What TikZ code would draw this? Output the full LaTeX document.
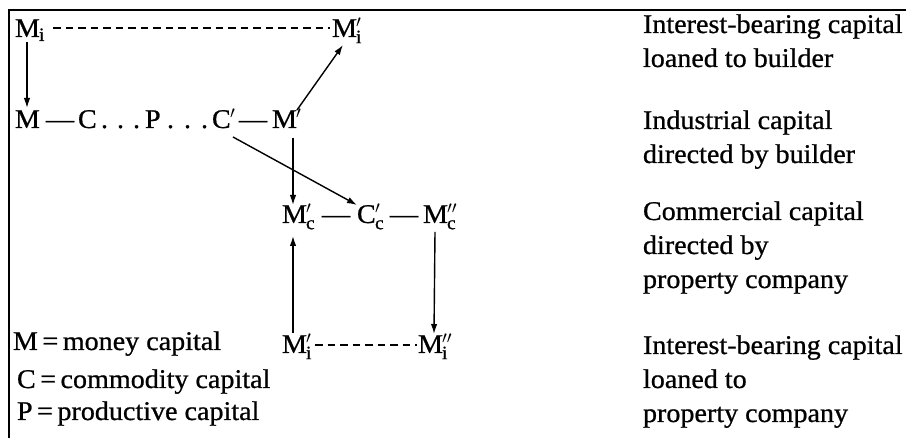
\documentclass[tikz,border=0pt]{standalone}
\usepackage{fontspec}
\setmainfont{Liberation Serif}[FakeStretch=1.04,FakeBold=0.8]
\usetikzlibrary{arrows.meta,calc}
\begin{document}
\begin{tikzpicture}[x=1pt,y=1pt,
  every node/.style={inner sep=0pt,outer sep=0pt,anchor=base west,font=\fontsize{27}{34}\selectfont},
  sym/.style={},
  note/.style={align=left},
  arr/.style={line width=1.4pt,-{Latex[length=10pt,width=6.5pt]}},
  dashline/.style={line width=1.3pt,dash pattern=on 7.5pt off 5pt}]
\useasboundingbox (0,0) rectangle (906,438);
\draw[line width=2pt] (9,0) -- (9,427.5) -- (906,427.5);
% row 1
\node[sym] (Mi)  at (15,401)  {$\mathrm{M}_{\mathrm{i}}$};
\node[sym] (Mip) at (332,401) {$\mathrm{M}'_{\mathrm{i}}$};
% row 2
\node[sym] (M)   at (15,310)  {M};
\node[sym] (d1)  at (46,310)  {---};
\node[sym] (C)   at (78,310)  {C};
\node[sym] (o1)  at (101,310) {.\hspace{9pt}.\hspace{9pt}.};
\node[sym] (P)   at (145,310) {P};
\node[sym] (o2)  at (167,310) {.\hspace{10pt}.\hspace{10pt}.};
\node[sym] (Cp)  at (212,310) {$\mathrm{C}'$};
\node[sym] (d2)  at (239,310) {---};
\node[sym] (Mp)  at (272,310) {$\mathrm{M}'$};
% row 3
\node[sym] (Mpc)  at (282,215) {$\mathrm{M}'_{\mathrm{c}}$};
\node[sym] (d3)   at (322,215) {---};
\node[sym] (Cpc)  at (357,215) {$\mathrm{C}'_{\mathrm{c}}$};
\node[sym] (d4)   at (390,215) {---};
\node[sym] (Mppc) at (423,215) {$\mathrm{M}''_{\mathrm{c}}$};
% row 4
\node[sym] (Mpi)  at (282,85) {$\mathrm{M}'_{\mathrm{i}}$};
\node[sym] (Mppi) at (418,85) {$\mathrm{M}''_{\mathrm{i}}$};
% legend
\node (L1) at (13,88) {M\,=\,money capital};
\node (L2) at (17,50) {C\,=\,commodity capital};
\node (L3) at (17,18) {P\,=\,productive capital};
% right column
\node[note] (N1) at (643,371) {Interest-bearing capital\\loaned to builder};
\node[note] (N2) at (643,275) {Industrial capital\\directed by builder};
\node[note] (N3) at (643,150) {Commercial capital\\directed by\\property company};
\node[note] (N4) at (643,16)  {Interest-bearing capital\\loaned to\\property company};
% connectors
\draw[dashline] ([shift={(38,9)}]Mi.base west) -- ([shift={(-2,9)}]Mip.base west);
\draw[dashline] ([shift={(33,8)}]Mpi.base west) -- ([shift={(-1,8)}]Mppi.base west);
\draw[arr] ([shift={(12,-5)}]Mi.base west) -- ([shift={(12,20)}]M.base west);
\draw[arr] ([shift={(25,18)}]Mp.base west) -- ([shift={(11,-8)}]Mip.base west);
\draw[arr] ([shift={(21,-10)}]Mp.base west) -- ([shift={(11,18)}]Mpc.base west);
\draw[arr] ([shift={(21,-9)}]Cp.base west) -- ([shift={(0,18)}]Cpc.base west);
\draw[arr] ([shift={(11,20)}]Mpi.base west) -- ([shift={(11,-13)}]Mpc.base west);
\draw[arr] ([shift={(12,-9)}]Mppc.base west) -- ([shift={(16,19)}]Mppi.base west);
\end{tikzpicture}
\end{document}
